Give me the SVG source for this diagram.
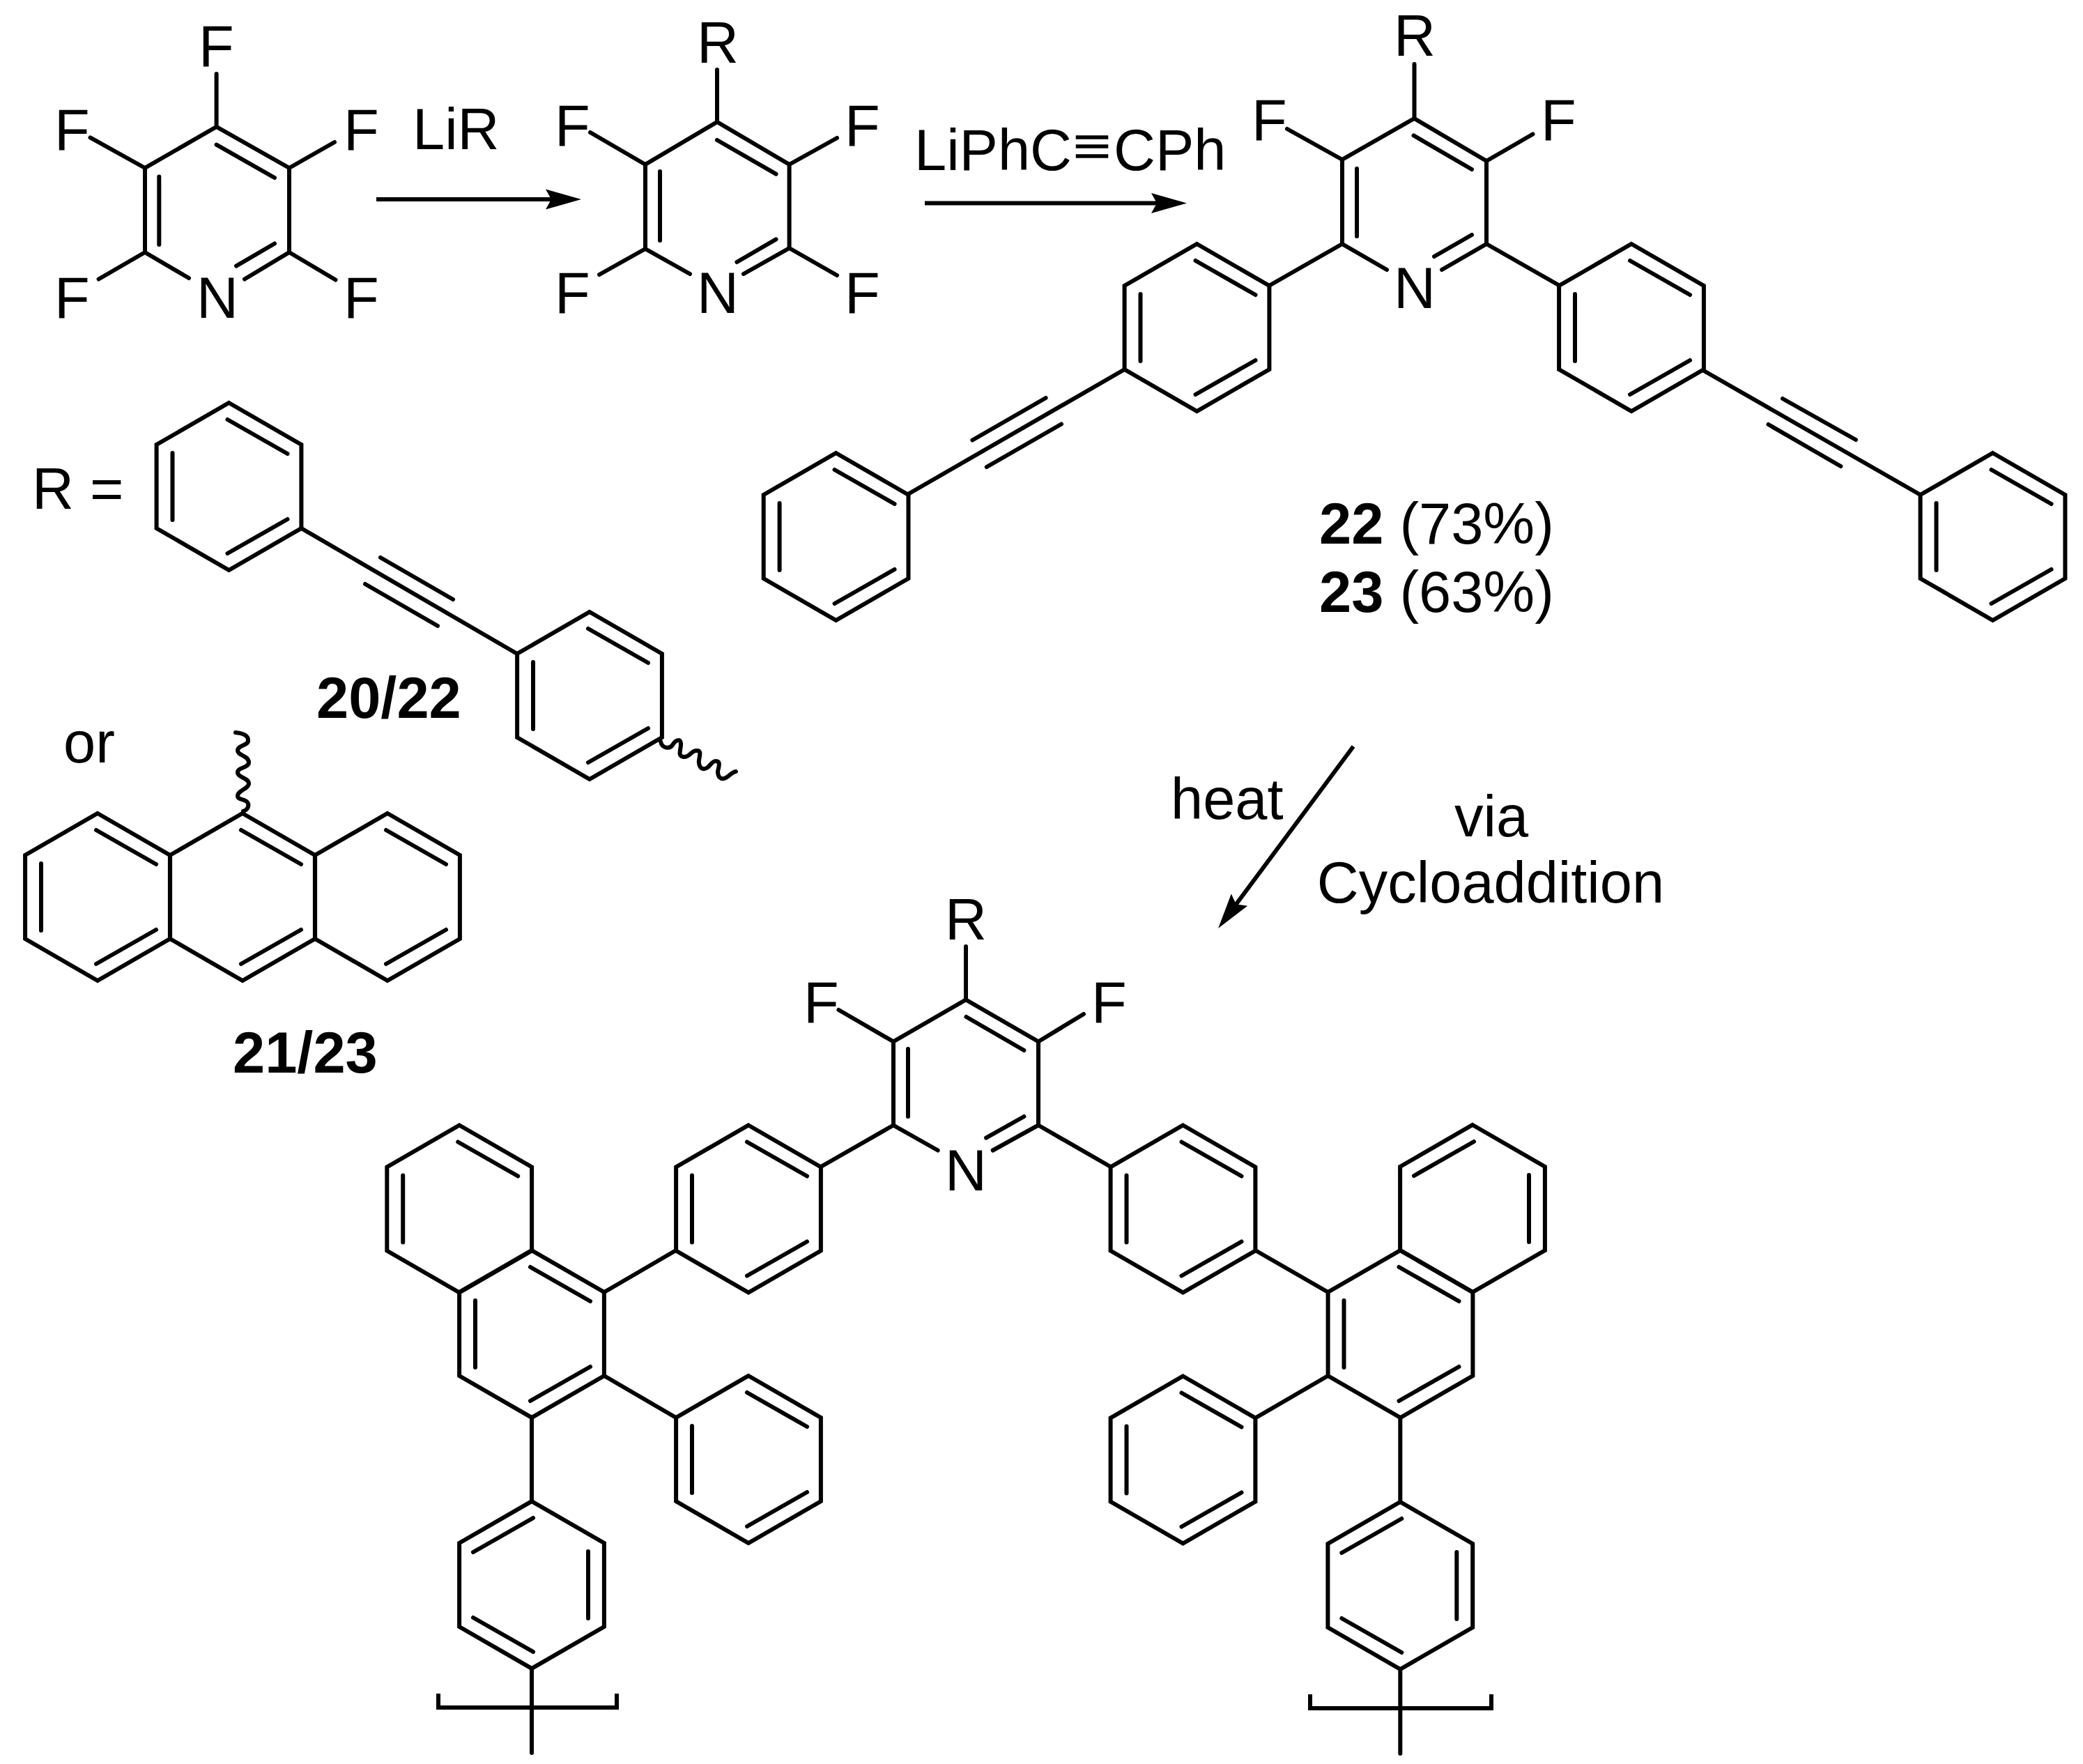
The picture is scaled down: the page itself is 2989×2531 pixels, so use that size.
<svg xmlns="http://www.w3.org/2000/svg" width="2989" height="2531" viewBox="0 0 2989 2531">
<style>
.b{fill:none;stroke:#000;stroke-width:6;stroke-linecap:round;stroke-linejoin:miter}
.s{fill:none;stroke:#000;stroke-width:6;stroke-linecap:butt;stroke-linejoin:miter}
text{font-family:"Liberation Sans",Arial,sans-serif;font-size:83px;fill:#000;stroke:none}
.bd{font-weight:bold}
.tri{font-family:"Noto Sans CJK SC","Liberation Sans",sans-serif;font-size:62px;stroke:#000;stroke-width:1.5}
</style>
<defs>
<path id="hex" d="M0-120L103.9-60V60L0 120L-103.9 60V-60Z"/>
<path id="iL" d="M-81-48V48"/>
<path id="iR" d="M81-48V48"/>
<path id="iTR" d="M-2-96L84-47"/>
<path id="iTL" d="M2-96L-84-47"/>
<path id="iBR" d="M-2 96L84 47"/>
<path id="iBL" d="M2 96L-84 47"/>
<g id="A"><use href="#hex"/><use href="#iL"/><use href="#iTR"/><use href="#iBR"/></g>
<g id="B"><use href="#hex"/><use href="#iR"/><use href="#iTL"/><use href="#iBL"/></g>
<marker id="head" markerUnits="userSpaceOnUse" markerWidth="60" markerHeight="40" viewBox="-55 -20 60 40" refX="-43" refY="0" orient="auto">
<path d="M0 0L-51-14.5L-43 0L-51 14.5Z" fill="#000"/>
</marker>
</defs>
<rect width="2989" height="2531" fill="#fff"/>

<g id="pentafluoropyridine">
<path class="b" d="M271 399L208 362V241L310.6 182L415 241V362L351 400.5M228.3 253.6V351M310.6 207.6L394 255M394 349.5L339 381.6M310.6 106V182M129.5 197.4L208 241M480 204L415 241M141.6 400.5L208 362M481.5 401.5L415 362"/>
<text x="285" y="95">F</text><text x="78" y="215">F</text><text x="493" y="215">F</text><text x="78" y="456">F</text><text x="282" y="456">N</text><text x="493" y="456">F</text>
</g>

<g id="tetrafluoropyridine-R">
<path class="b" d="M990 393L926 357V236L1029 175L1132.6 236V356L1067 393M947 246V345M1029 201L1113.5 249.7M1057.4 376L1113.5 343.3M1029 100V175M847 190L926 236M860 394L926 357M1201 198L1132.6 236M1201 395L1132.6 356"/>
<text x="1000" y="90">R</text><text x="796" y="209">F</text><text x="1212" y="209">F</text><text x="796" y="449">F</text><text x="1000" y="449">N</text><text x="1212" y="449">F</text>
</g>

<g id="label-LiR"><text x="592" y="214">LiR</text></g>
<g id="label-LiPhCCPh"><text x="1312" y="244">LiPhC<tspan class="tri" x="1536" dy="-10">≡</tspan><tspan x="1598" dy="10">CPh</tspan></text></g>

<g id="R-phenylethynylphenyl" class="b">
<use href="#A" x="328.5" y="698"/>
<use href="#A" x="846" y="998"/>
<path d="M432.4 758L742 938M546 800L650 860M524 838L628 898"/>
<path d="M948 1064C950 1074 961 1075 965 1069C969 1062 976 1059 977 1066C978 1074 971 1085 981 1086C989 1087 992 1077 999 1077C1007 1076 1004 1084 1003 1091C1002 1099 1006 1104 1011 1103C1018 1103 1020 1092 1027 1092C1035 1092 1031 1101 1030 1107C1030 1115 1034 1118 1039 1117C1045 1116 1049 1108 1056 1107"/>
</g>
<g id="label-R-eq"><text x="46" y="730">R =</text></g>
<g id="label-2022"><text class="bd" x="454" y="1030">20/22</text></g>
<g id="label-or"><text x="91" y="1094">or</text></g>

<g id="R-anthracenyl" class="b">
<use href="#A" x="140" y="1287"/>
<use href="#hex" x="348" y="1287"/><use href="#iTR" x="348" y="1287"/><use href="#iBR" x="348" y="1287"/>
<use href="#hex" x="556" y="1287"/><use href="#iTR" x="556" y="1287"/><use href="#iBR" x="556" y="1287"/>
<path d="M349 1164C356 1162 358 1155 355 1151C351 1146 341 1148 341 1142C341 1134 357 1132 357 1124C357 1116 341 1116 341 1108C341 1101 357 1102 357 1094C357 1084 341 1084 341 1077C341 1069 357 1070 356 1062C356 1055 348 1052 338 1051"/>
</g>
<g id="label-2123"><text class="bd" x="334" y="1539">21/23</text></g>

<g id="product-22-23">
<g class="b">
<path d="M1990 387L1926 350V229L2029.5 170L2133 231V350L2069 387M1947 242V339M2028.5 194.4L2112 243M2058 368L2112 337M2029.5 92V170M1847 185L1926 229M2199.5 192.5L2133 231M1822.7 409L1926 350M2133 350L2236.5 409"/>
<use href="#A" x="1717.5" y="470"/>
<use href="#A" x="1199.6" y="770"/>
<use href="#A" x="2341" y="470"/>
<use href="#A" x="2859.5" y="770"/>
<path d="M1303 709L1612 531M1395.4 631.5L1500.6 571M1415.8 670L1523 608.5"/>
<path d="M2445 532L2754 709M2558 572L2663 631M2537.5 609L2641.4 669"/>
</g>
<text x="2000" y="80">R</text><text x="1796" y="201">F</text><text x="2211" y="201">F</text><text x="2000" y="442">N</text>
</g>
<g id="label-yields">
<text x="1893" y="780"><tspan class="bd">22</tspan> (73%)</text>
<text x="1893" y="878"><tspan class="bd">23</tspan> (63%)</text>
</g>

<g id="label-heat"><text x="1680" y="1175">heat</text></g>
<g id="label-via"><text x="2140" y="1200" text-anchor="middle">via</text><text x="2139" y="1295" text-anchor="middle">Cycloaddition</text></g>

<g id="polymer-unit">
<g class="b">
<path d="M1345.7 1650.5L1282 1614.5V1494.5L1386 1434.5L1490 1494.5V1614.5L1424.7 1650.5M1303 1505V1602M1386.5 1459L1469.4 1507M1415 1632.6L1469.4 1602M1386 1358V1434.5M1203.4 1449L1282 1494.5M1555 1455L1490 1494.5M1282 1614.5L1178 1674M1490 1614.5L1593.5 1674"/>
<use href="#A" x="1074" y="1734.5"/>
<use href="#hex" x="659.2" y="1734.5"/><use href="#iL" x="659.2" y="1734.5"/><use href="#iTR" x="659.2" y="1734.5"/>
<use href="#A" x="763" y="1914"/>
<use href="#A" x="1074" y="2094"/>
<use href="#B" x="763" y="2274"/>
<path d="M867 1854L970 1794M867 1974L970 2034M763 2034V2154M763 2394V2515"/>
<use href="#A" x="1697.5" y="1734.5"/>
<use href="#hex" x="2113" y="1734"/><use href="#iR" x="2113" y="1734"/><use href="#iTL" x="2113" y="1734"/>
<use href="#A" x="2009.5" y="1914"/>
<use href="#A" x="1697.5" y="2094.5"/>
<use href="#B" x="2009.3" y="2275"/>
<path d="M1801.4 1794L1905.6 1854M1801.4 2034.5L1905.6 1974M2009.3 2034V2155M2009.3 2395V2516"/>
<path class="s" d="M629 2430V2450H885V2430M1880 2431V2451H2140V2431"/>
</g>
<text x="1356" y="1348">R</text><text x="1153" y="1467">F</text><text x="1566" y="1467">F</text><text x="1356" y="1708">N</text>
</g>

<g id="connectors" class="s">
<path d="M540 286H791" marker-end="url(#head)"/>
<path d="M1327 291.6H1660" marker-end="url(#head)"/>
<path d="M1942 1071L1773.7 1297.5" marker-end="url(#head)"/>
</g>
</svg>
